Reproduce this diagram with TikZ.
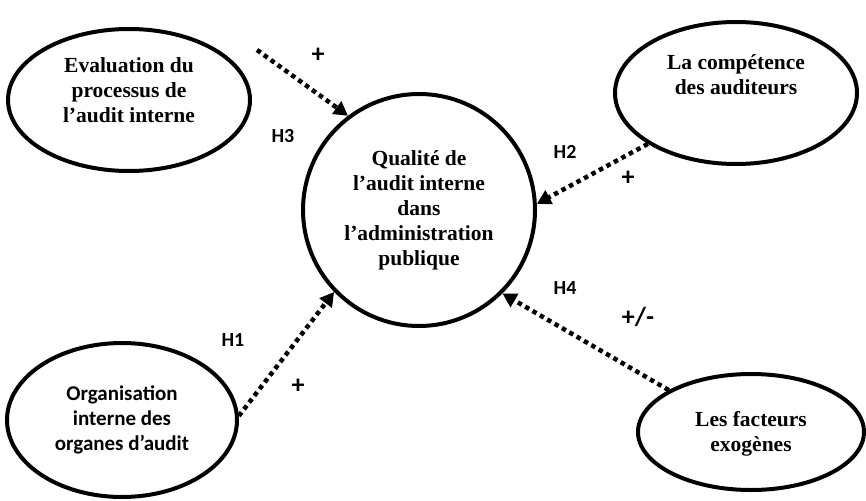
\documentclass[tikz,border=0pt]{standalone}
\usepackage{fontspec}
\setmainfont{Liberation Serif}
\newfontfamily\calib{Carlito}
\usetikzlibrary{shapes.geometric,arrows.meta}
\tikzset{
  oval/.style={draw, line width=4pt, ellipse, inner sep=0pt},
  serif/.style={font=\fontsize{21.5}{25}\selectfont\bfseries, align=center},
  sans/.style={font=\calib\fontsize{21}{25}\selectfont\bfseries, align=center},
  hlab/.style={font=\calib\fontsize{20}{22}\selectfont\bfseries},
  sign/.style={font=\calib\fontsize{26}{28}\selectfont\bfseries},
  link/.style={line width=4.5pt, dash pattern=on 4.5pt off 4pt,
    -{Triangle[length=14pt,width=15pt]}}
}
\begin{document}
\begin{tikzpicture}[x=1pt,y=-1pt]
\useasboundingbox (0,0) rectangle (866,500);
% ellipses
\node[oval, minimum width=242pt, minimum height=142pt] (E) at (129,100) {};
\node[oval, minimum width=242pt, minimum height=142pt] (C) at (736,93) {};
\node[oval, minimum width=230pt, minimum height=154pt] (O) at (122,420) {};
\node[oval, minimum width=226pt, minimum height=116pt] (F) at (751,432) {};
\node[draw, circle, line width=4pt, minimum size=232pt, inner sep=0pt] (Q) at (419,210) {};
% texts
\node[serif] (tE) at (129,90) {Evaluation du\\processus de\\l’audit interne};
\node[serif] (tC) at (736,75) {La compétence\\des auditeurs};
\node[sans] (tO) at (122,420) {Organisation\\interne des\\organes d’audit};
\node[serif] (tF) at (751,434) {Les facteurs\\exogènes};
\node[serif] (tQ) at (419,210) {Qualité de\\l’audit interne\\dans\\l’administration\\publique};
% connectors
\coordinate (s3) at (257,50);
\draw[link] (s3) -- (Q.127);
\draw[link] (C.210) -- (Q.3);
\draw[link] (O.2) -- (Q.224);
\draw[link] (F.153) -- (Q.-45);
% labels
\node[sign] (p3) at (318,55) {+};
\node[hlab] (h3) at (283,136) {H3};
\node[hlab] (h2) at (565,152) {H2};
\node[sign] (p2) at (628,178) {+};
\node[hlab] (h4) at (565,288) {H4};
\node[sign] (p4) at (638,317) {+/-};
\node[hlab] (h1) at (233,340) {H1};
\node[sign] (p1) at (298,386) {+};
\end{tikzpicture}
\end{document}
